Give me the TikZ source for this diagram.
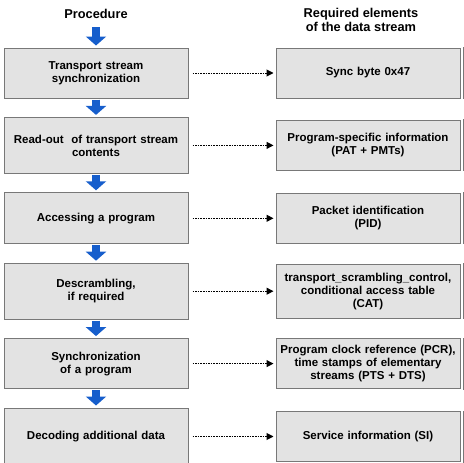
\documentclass[tikz,border=0pt]{standalone}
\usepackage{fontspec}
\setmainfont{Liberation Sans}
\usetikzlibrary{arrows.meta, positioning}
\definecolor{boxfill}{RGB}{227,227,227}
\definecolor{boxline}{RGB}{120,120,120}
\definecolor{flowblue}{RGB}{22,94,204}
\tikzstyle{procbox} = [rectangle, minimum width=184pt, minimum height=50pt, text centered, text width=177pt, draw=boxline, fill=boxfill, line width=1pt, font=\fontsize{11.5}{13}\selectfont\bfseries]
\tikzstyle{databox} = [procbox, text width=177pt]
\tikzstyle{nextbox} = [draw=boxline, fill=boxfill, line width=1pt]
\tikzstyle{heading} = [align=center, font=\fontsize{12.8}{14}\selectfont\bfseries]
\tikzstyle{flow} = [line width=8pt, draw=flowblue, -{Triangle[width=20pt,length=9pt]}, shorten <=1pt, shorten >=2pt]
\tikzstyle{dotarrow} = [line width=1pt, dash pattern=on 1.6pt off 1pt, -{Triangle[width=7pt,length=7pt]}, shorten <=4pt, shorten >=2pt]
\begin{document}
\begin{tikzpicture}[x=1pt, y=-1pt, node distance=18.4pt and 87pt]
\clip (0,0) rectangle (464,463);

\node (proc) [heading] at (96,14) {Procedure};
\node (reqd) [heading] at (361,20) {Required elements\\of the data stream};

\node (sync) [procbox] at (96,73) {Transport stream\\synchronization};
\node (readout) [procbox, minimum height=56pt, below=of sync] {Read-out\ \ of transport stream\\contents};
\node (access) [procbox, minimum height=51pt, below=of readout] {Accessing a program};
\node (descr) [procbox, minimum height=56pt, below=of access] {Descrambling,\\if required};
\node (progsync) [procbox, below=of descr] {Synchronization\\of a program};
\node (decode) [procbox, minimum height=57pt, below=of progsync] {Decoding additional data};

\node (syncbyte) [databox, right=of sync] {Sync byte 0x47};
\node (psi) [databox, right=of readout] {Program-specific information\\(PAT + PMTs)};
\node (pid) [databox, right=of access] {Packet identification\\(PID)};
\node (scramble) [databox, minimum height=54pt, right=of descr] {transport\_scrambling\_control,\\conditional access table\\(CAT)};
\node (pcr) [databox, right=of progsync] {Program clock reference (PCR),\\time stamps of elementary\\streams (PTS + DTS)};
\node (si) [databox, right=of decode] {Service information (SI)};

\draw [nextbox] ([xshift=3pt]syncbyte.north east) rectangle ([xshift=40pt]syncbyte.south east);
\draw [nextbox] ([xshift=3pt]psi.north east) rectangle ([xshift=40pt]psi.south east);
\draw [nextbox] ([xshift=3pt]pid.north east) rectangle ([xshift=40pt]pid.south east);
\draw [nextbox] ([xshift=3pt]scramble.north east) rectangle ([xshift=40pt]scramble.south east);
\draw [nextbox] ([xshift=3pt]pcr.north east) rectangle ([xshift=40pt]pcr.south east);
\draw [nextbox] ([xshift=3pt]si.north east) rectangle ([xshift=40pt]si.south east);

\coordinate (start) at (96,26);
\draw [flow] (start) -- (sync);
\draw [flow] (sync) -- (readout);
\draw [flow] (readout) -- (access);
\draw [flow] (access) -- (descr);
\draw [flow] (descr) -- (progsync);
\draw [flow] (progsync) -- (decode);

\draw [dotarrow] (sync.east) -- (sync.east -| syncbyte.west);
\draw [dotarrow] (readout.east) -- (readout.east -| psi.west);
\draw [dotarrow] (access.east) -- (access.east -| pid.west);
\draw [dotarrow] (descr.east) -- (descr.east -| scramble.west);
\draw [dotarrow] (progsync.east) -- (progsync.east -| pcr.west);
\draw [dotarrow] (decode.east) -- (decode.east -| si.west);
\end{tikzpicture}
\end{document}
